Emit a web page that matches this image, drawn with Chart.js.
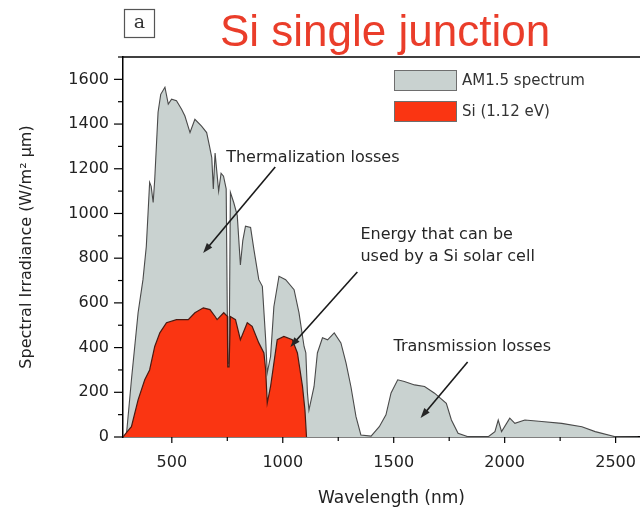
<!DOCTYPE html>
<html lang="en">
<head>
    <meta charset="UTF-8">
    <title>Si single junction</title>
    <style>
        body {
            margin: 0;
            background-color: #fff;
            overflow: hidden;
        }
        .chart-container {
            width: 660px;
            height: 510px;
        }
    </style>
</head>
<body>
    <div class="chart-container">
        <canvas id="spectrumChart" width="660" height="510"></canvas>
    </div>

    <script src="https://cdn.jsdelivr.net/npm/chart.js"></script>

    <script>
        // AM1.5 spectrum (nm, W/m2 um)
        const amWavelength = [280, 295, 318, 348, 370, 385, 393, 400, 407, 416, 423, 438, 450, 469, 484, 499, 521, 544, 559, 582, 604, 634, 657, 670, 680, 687, 695, 711, 722, 733, 745, 752, 758, 764, 779, 795, 809, 820, 832, 855, 870, 892, 908, 923, 930, 945, 960, 983, 1013, 1051, 1073, 1096, 1104, 1111, 1118, 1141, 1156, 1179, 1202, 1232, 1262, 1285, 1307, 1330, 1352, 1398, 1435, 1465, 1488, 1518, 1548, 1594, 1639, 1684, 1737, 1760, 1790, 1835, 1926, 1956, 1971, 1986, 2023, 2046, 2091, 2167, 2257, 2348, 2408, 2499, 2600];
        const amIrradiance = [0, 5, 256, 556, 704, 852, 1004, 1139, 1121, 1049, 1152, 1453, 1533, 1565, 1489, 1511, 1504, 1466, 1436, 1362, 1421, 1391, 1362, 1300, 1250, 1110, 1270, 1100, 1180, 1167, 1110, 330, 330, 1094, 1049, 990, 770, 880, 943, 937, 838, 704, 674, 435, 287, 360, 584, 719, 704, 659, 556, 405, 376, 200, 120, 226, 376, 444, 435, 466, 421, 332, 226, 91, 9, 4, 46, 99, 197, 256, 248, 233, 226, 196, 151, 76, 17, 1, 1, 24, 76, 24, 84, 61, 76, 69, 61, 46, 24, 1, 0];

        // part usable by Si (1.12 eV)
        const siWavelength = [280, 300, 318, 348, 378, 400, 423, 446, 476, 521, 574, 604, 642, 672, 695, 704, 734, 750, 752, 758, 764, 787, 809, 840, 862, 892, 915, 923, 930, 945, 975, 1005, 1043, 1066, 1089, 1100, 1107];
        const siIrradiance = [0, 25, 46, 166, 256, 300, 405, 466, 511, 525, 525, 556, 578, 570, 539, 525, 556, 540, 314, 314, 539, 525, 435, 511, 495, 421, 376, 300, 152, 226, 435, 450, 435, 376, 226, 120, 0];

        const seriesLabels = ['AM1.5 spectrum', 'Si (1.12 eV)'];

        const FONT = '"DejaVu Sans", sans-serif';

        function toPoints(xs, ys) {
            return xs.map((x, i) => ({ x: x, y: ys[i] }));
        }

        // text + arrows, in data units
        const notes = [
            { lines: ['Thermalization losses'], x: 745, y: 1250, from: [966, 1208], to: [641, 823] },
            { lines: ['Energy that can be', 'used by a Si solar cell'], x: 1350, y: 905, from: [1336, 738], to: [1034, 403] },
            { lines: ['Transmission losses'], x: 1499, y: 403, from: [1833, 336], to: [1621, 85] }
        ];

        const decorPlugin = {
            id: 'decor',
            afterDraw(chart) {
                const ctx = chart.ctx;
                const xs = chart.scales.x;
                const ys = chart.scales.y;
                const area = chart.chartArea;

                ctx.save();
                // top frame
                ctx.strokeStyle = '#000';
                ctx.lineWidth = 1.5;
                ctx.beginPath();
                ctx.moveTo(area.left, area.top);
                ctx.lineTo(area.right, area.top);
                ctx.stroke();

                // major / minor ticks
                ctx.lineWidth = 1.2;
                ys.ticks.forEach(t => {
                    const p = ys.getPixelForValue(t.value);
                    const len = t.value % 200 === 0 ? 9 : 5;
                    ctx.beginPath();
                    ctx.moveTo(area.left - len, p);
                    ctx.lineTo(area.left, p);
                    ctx.stroke();
                });
                xs.ticks.forEach(t => {
                    const p = xs.getPixelForValue(t.value);
                    const len = t.value % 500 === 0 ? 6 : 4;
                    ctx.beginPath();
                    ctx.moveTo(p, area.bottom);
                    ctx.lineTo(p, area.bottom + len);
                    ctx.stroke();
                });

                // annotations
                ctx.fillStyle = '#262626';
                ctx.strokeStyle = '#1a1a1a';
                ctx.font = '16px ' + FONT;
                ctx.textAlign = 'left';
                ctx.textBaseline = 'middle';
                notes.forEach(n => {
                    const tx = xs.getPixelForValue(n.x);
                    const ty = ys.getPixelForValue(n.y);
                    n.lines.forEach((line, i) => ctx.fillText(line, tx, ty + i * 22));

                    const x1 = xs.getPixelForValue(n.from[0]);
                    const y1 = ys.getPixelForValue(n.from[1]);
                    const x2 = xs.getPixelForValue(n.to[0]);
                    const y2 = ys.getPixelForValue(n.to[1]);
                    const ang = Math.atan2(y2 - y1, x2 - x1);
                    ctx.lineWidth = 1.6;
                    ctx.beginPath();
                    ctx.moveTo(x1, y1);
                    ctx.lineTo(x2 - 6 * Math.cos(ang), y2 - 6 * Math.sin(ang));
                    ctx.stroke();
                    ctx.beginPath();
                    ctx.moveTo(x2, y2);
                    ctx.lineTo(x2 - 10 * Math.cos(ang) + 3.5 * Math.sin(ang), y2 - 10 * Math.sin(ang) - 3.5 * Math.cos(ang));
                    ctx.lineTo(x2 - 10 * Math.cos(ang) - 3.5 * Math.sin(ang), y2 - 10 * Math.sin(ang) + 3.5 * Math.cos(ang));
                    ctx.closePath();
                    ctx.fill();
                });

                // legend
                const boxes = [
                    { ds: chart.data.datasets[1], top: 70 },
                    { ds: chart.data.datasets[0], top: 101 }
                ];
                boxes.forEach(b => {
                    ctx.fillStyle = b.ds.backgroundColor;
                    ctx.fillRect(394, b.top, 63, 21);
                    ctx.strokeStyle = '#6e6e6e';
                    ctx.lineWidth = 1;
                    ctx.strokeRect(394.5, b.top + 0.5, 62, 20);
                    ctx.fillStyle = '#333';
                    ctx.font = '15px ' + FONT;
                    ctx.fillText(b.ds.label, 462, b.top + 11);
                });

                // panel letter and title
                ctx.fillStyle = '#fff';
                ctx.fillRect(124, 9, 30, 28);
                ctx.strokeStyle = '#555';
                ctx.lineWidth = 1.2;
                ctx.strokeRect(124.5, 9.5, 30, 28);
                ctx.fillStyle = '#333';
                ctx.font = '19px "DejaVu Serif", serif';
                ctx.textAlign = 'center';
                ctx.fillText('a', 139.5, 23);

                ctx.fillStyle = '#ea3d2a';
                ctx.font = '44px "Liberation Sans", Arial, sans-serif';
                ctx.textBaseline = 'alphabetic';
                ctx.fillText('Si single junction', 385, 46);
                ctx.restore();
            }
        };

        const ctx = document.getElementById('spectrumChart').getContext('2d');
        new Chart(ctx, {
            type: 'line',
            data: {
                datasets: [
                    {
                        label: seriesLabels[1],
                        data: toPoints(siWavelength, siIrradiance),
                        backgroundColor: '#fa3512',
                        borderColor: '#4a1a12',
                        borderWidth: 1.2,
                        fill: 'origin',
                        pointRadius: 0,
                        tension: 0,
                        order: 1
                    },
                    {
                        label: seriesLabels[0],
                        data: toPoints(amWavelength, amIrradiance),
                        backgroundColor: '#c9d2d0',
                        borderColor: '#4a4a4a',
                        borderWidth: 1.1,
                        fill: 'origin',
                        pointRadius: 0,
                        tension: 0,
                        order: 2
                    }
                ]
            },
            options: {
                responsive: false,
                devicePixelRatio: 1,
                animation: false,
                layout: { padding: { left: 13, top: 57, right: 0, bottom: 0 } },
                plugins: {
                    legend: { display: false },
                    tooltip: { enabled: false }
                },
                scales: {
                    x: {
                        type: 'linear',
                        min: 280,
                        max: 2700,
                        afterFit: (scale) => { scale.height = 73; },
                        border: { color: '#000', width: 1.5 },
                        grid: { drawOnChartArea: false, tickLength: 6, tickColor: 'rgba(0,0,0,0)' },
                        ticks: {
                            stepSize: 250,
                            includeBounds: false,
                            maxRotation: 0,
                            autoSkip: false,
                            padding: 10,
                            color: '#222',
                            font: { family: FONT, size: 16 },
                            callback: (v) => v % 500 === 0 ? String(v) : ''
                        },
                        title: {
                            display: true,
                            text: 'Wavelength (nm)',
                            color: '#222',
                            padding: { top: 4, bottom: 1 },
                            font: { family: FONT, size: 17 }
                        }
                    },
                    y: {
                        min: 0,
                        max: 1700,
                        afterFit: (scale) => { scale.width = 110; },
                        border: { color: '#000', width: 1.5 },
                        grid: { drawOnChartArea: false, tickLength: 9, tickColor: 'rgba(0,0,0,0)' },
                        ticks: {
                            stepSize: 100,
                            autoSkip: false,
                            padding: 5,
                            color: '#222',
                            font: { family: FONT, size: 16 },
                            callback: (v) => v % 200 === 0 ? String(v) : ''
                        },
                        title: {
                            display: true,
                            text: 'Spectral Irradiance (W/m² µm)',
                            color: '#222',
                            font: { family: FONT, size: 16 }
                        }
                    }
                }
            },
            plugins: [decorPlugin]
        });
    </script>
</body>
</html>
